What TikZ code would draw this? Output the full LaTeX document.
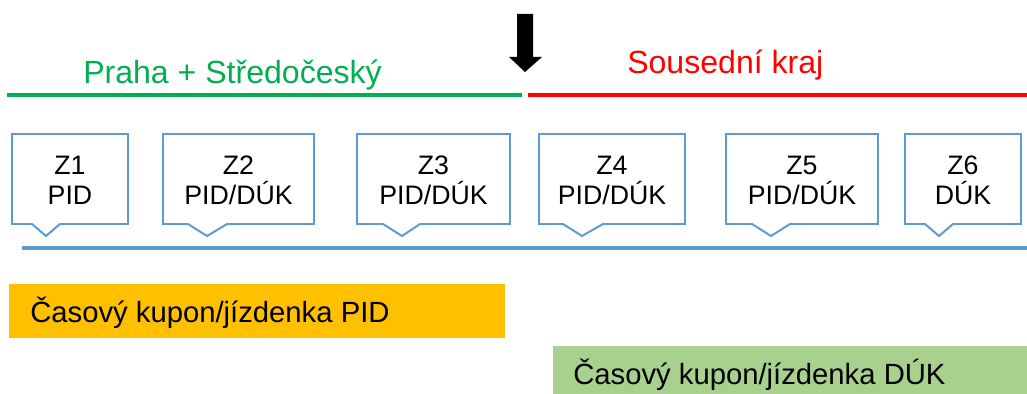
\documentclass[tikz,border=0pt]{standalone}
\usepackage{fontspec}
\setmainfont{Liberation Sans}
\definecolor{pidgreen}{HTML}{00B050}
\definecolor{zoneblue}{HTML}{5B9BD5}
\definecolor{pidorange}{HTML}{FFC000}
\definecolor{dukgreen}{HTML}{A9D18E}
% callout box of one zone: name, left, right, pointer base left, tip, base right, text
\newcommand{\zona}[7]{%
    \draw[zoneline] (#2,134)--(#3,134)--(#3,224)--(#6,224)--(#5,236)--(#4,224)--(#2,224)--cycle;
    \node[zonetext] (#1) at ({(#2+#3)/2},180) {#7};
}

\begin{document}
\begin{tikzpicture}[x=0.025cm,y=-0.025cm,
        zoneline/.style={draw=zoneblue,line width=1.4pt,line join=miter,fill=white},
        zonetext/.style={inner sep=0pt,align=center,font=\fontsize{19}{21.3}\selectfont},
        toplabel/.style={inner sep=0pt,anchor=base west,font=\fontsize{22.8}{26}\selectfont},
        barlabel/.style={inner sep=0pt,anchor=base west,font=\fontsize{20.8}{24}\selectfont}]
    \useasboundingbox (0,0) rectangle (1027,394);
    % regions
    \node[toplabel,text=pidgreen] (praha) at (83,84) {Praha + Středočeský};
    \node[toplabel,text=red] (soused) at (627,74) {Sousední kraj};
    \draw[pidgreen,line width=2.8pt] (7,95)--(522,95);
    \draw[red,line width=2.8pt] (528,95)--(1027,95);
    \fill[black] (517,14)--(533,14)--(533,57)--(542,57)--(525,72)--(509,57)--(517,57)--cycle;
    % zones
    \zona{z1}{12}{128}{32}{46}{60}{Z1\\PID}
    \zona{z2}{163}{314}{188}{207}{227}{Z2\\PID/DÚK}
    \zona{z3}{357}{510}{383}{402}{420}{Z3\\PID/DÚK}
    \zona{z4}{539}{685}{563}{582}{603}{Z4\\PID/DÚK}
    \zona{z5}{726}{878}{752}{771}{790}{Z5\\PID/DÚK}
    \zona{z6}{905}{1021}{925}{939}{953}{Z6\\DÚK}
    \draw[zoneblue,line width=2.5pt] (22,248)--(1027,248);
    % tickets
    \fill[pidorange] (9,284) rectangle (505,338);
    \node[barlabel] (pid) at (30,322) {Časový kupon/jízdenka PID};
    \fill[dukgreen] (553,346) rectangle (1027,394);
    \node[barlabel] (duk) at (573,384) {Časový kupon/jízdenka DÚK};
\end{tikzpicture}
\end{document}
